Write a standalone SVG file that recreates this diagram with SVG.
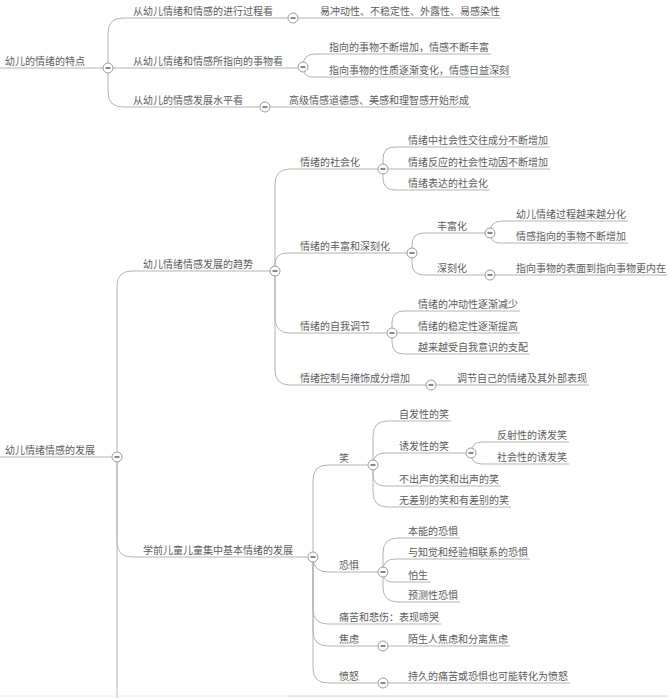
<svg xmlns="http://www.w3.org/2000/svg" width="668" height="698" viewBox="0 0 668 698">
<defs>
<style>
text{font-family:"Noto Sans CJK SC","Noto Sans CJK JP",sans-serif;font-size:10px;fill:#5c5c5c;}
.c path{fill:none;stroke:#b4b4b4;stroke-width:1;}
.t circle{fill:#fff;stroke:#9a9a9a;stroke-width:1;}
.t line{stroke:#555;stroke-width:1.4;}
</style>
<g id="tog" class="t"><circle cx="0" cy="0" r="5"/><line x1="-2.5" y1="0" x2="2.5" y2="0"/></g>
</defs>
<rect width="668" height="698" fill="#fff"/>
<g id="connectors" class="c">
<path d="M0,68 H103"/>
<path d="M108,68 V33 Q108,18 123,18 H288"/>
<path d="M113,68 H298"/>
<path d="M108,68 V92 Q108,107 123,107 H260"/>
<path d="M298,18 H501"/>
<path d="M303,67 V66 Q303,54 315,54 H491"/>
<path d="M303,67 Q303,77 313,77 H511"/>
<path d="M270,107 H471"/>
<path d="M0,457 H112"/>
<path d="M117,462 V698"/>
<path d="M117,457 V286 Q117,271 132,271 H270"/>
<path d="M117,457 V542 Q117,557 132,557 H308"/>
<path d="M275,271 V184 Q275,169 290,169 H378"/>
<path d="M275,271 V265 Q275,253 287,253 H407"/>
<path d="M275,271 V318 Q275,333 290,333 H387"/>
<path d="M275,271 V370 Q275,385 290,385 H426"/>
<path d="M383,169 V159 Q383,147 395,147 H550"/>
<path d="M388,169 H550"/>
<path d="M383,169 V178 Q383,190 395,190 H490"/>
<path d="M412,253 V245 Q412,233 424,233 H485"/>
<path d="M412,253 V263 Q412,275 424,275 H485"/>
<path d="M490,233 Q490,221 502,221 H628"/>
<path d="M490,233 Q490,243 500,243 H628"/>
<path d="M495,275 H667"/>
<path d="M392,333 V323 Q392,311 404,311 H520"/>
<path d="M397,333 H520"/>
<path d="M392,333 V342 Q392,354 404,354 H530"/>
<path d="M436,385 H589"/>
<path d="M313,557 V480 Q313,465 328,465 H368"/>
<path d="M313,557 Q313,572 328,572 H378"/>
<path d="M313,557 V609 Q313,624 328,624 H441"/>
<path d="M313,557 V631 Q313,646 328,646 H378"/>
<path d="M313,557 V668 Q313,683 328,683 H378"/>
<path d="M373,465 V436 Q373,421 388,421 H451"/>
<path d="M373,465 Q373,453 385,453 H466"/>
<path d="M373,465 V474 Q373,486 385,486 H501"/>
<path d="M373,465 V492 Q373,507 388,507 H511"/>
<path d="M471,453 Q471,442 482,442 H569"/>
<path d="M471,453 Q471,464 482,464 H569"/>
<path d="M383,572 V553 Q383,538 398,538 H460"/>
<path d="M383,572 V571 Q383,559 395,559 H530"/>
<path d="M383,572 Q383,582 393,582 H431"/>
<path d="M383,572 V587 Q383,602 398,602 H460"/>
<path d="M388,646 H510"/>
<path d="M388,683 H570"/>
</g>
<g id="frame"><path d="M0,696 H287" stroke="#ececec" stroke-width="1"/><path d="M287,696 H668" stroke="#d2d2d2" stroke-width="1"/></g>

<g id="n-root1"><text x="5" y="65">幼儿的情绪的特点</text><use href="#tog" x="108" y="68"/></g>
<g id="n-a"><text x="133" y="15">从幼儿情绪和情感的进行过程看</text><use href="#tog" x="293" y="18"/></g>
<g id="n-a1"><text x="320" y="15">易冲动性、不稳定性、外露性、易感染性</text></g>
<g id="n-b"><text x="133" y="65">从幼儿情绪和情感所指向的事物看</text><use href="#tog" x="303" y="67"/></g>
<g id="n-b1"><text x="329" y="51">指向的事物不断增加，情感不断丰富</text></g>
<g id="n-b2"><text x="329" y="74">指向事物的性质逐渐变化，情感日益深刻</text></g>
<g id="n-c"><text x="133" y="104">从幼儿的情感发展水平看</text><use href="#tog" x="265" y="107"/></g>
<g id="n-c1"><text x="289" y="104">高级情感道德感、美感和理智感开始形成</text></g>

<g id="n-root2"><text x="5" y="454">幼儿情绪情感的发展</text><use href="#tog" x="117" y="457"/></g>
<g id="n-t"><text x="143" y="268">幼儿情绪情感发展的趋势</text><use href="#tog" x="275" y="271"/></g>
<g id="n-t1"><text x="300" y="166">情绪的社会化</text><use href="#tog" x="383" y="169"/></g>
<g id="n-t11"><text x="408" y="144">情绪中社会性交往成分不断增加</text></g>
<g id="n-t12"><text x="408" y="166">情绪反应的社会性动因不断增加</text></g>
<g id="n-t13"><text x="408" y="187">情绪表达的社会化</text></g>
<g id="n-t2"><text x="300" y="250">情绪的丰富和深刻化</text><use href="#tog" x="412" y="253"/></g>
<g id="n-t21"><text x="437" y="230">丰富化</text><use href="#tog" x="490" y="233"/></g>
<g id="n-t211"><text x="516" y="218">幼儿情绪过程越来越分化</text></g>
<g id="n-t212"><text x="516" y="240">情感指向的事物不断增加</text></g>
<g id="n-t22"><text x="437" y="272">深刻化</text><use href="#tog" x="490" y="275"/></g>
<g id="n-t221"><text x="516" y="272">指向事物的表面到指向事物更内在</text></g>
<g id="n-t3"><text x="300" y="330">情绪的自我调节</text><use href="#tog" x="392" y="333"/></g>
<g id="n-t31"><text x="418" y="308">情绪的冲动性逐渐减少</text></g>
<g id="n-t32"><text x="418" y="330">情绪的稳定性逐渐提高</text></g>
<g id="n-t33"><text x="418" y="351">越来越受自我意识的支配</text></g>
<g id="n-t4"><text x="300" y="382">情绪控制与掩饰成分增加</text><use href="#tog" x="431" y="385"/></g>
<g id="n-t41"><text x="457" y="382">调节自己的情绪及其外部表现</text></g>

<g id="n-j"><text x="143" y="554">学前儿童儿童集中基本情绪的发展</text><use href="#tog" x="313" y="557"/></g>
<g id="n-x"><text x="339" y="462">笑</text><use href="#tog" x="373" y="465"/></g>
<g id="n-x1"><text x="399" y="418">自发性的笑</text></g>
<g id="n-x2"><text x="399" y="450">诱发性的笑</text><use href="#tog" x="471" y="453"/></g>
<g id="n-x21"><text x="497" y="439">反射性的诱发笑</text></g>
<g id="n-x22"><text x="497" y="461">社会性的诱发笑</text></g>
<g id="n-x3"><text x="399" y="483">不出声的笑和出声的笑</text></g>
<g id="n-x4"><text x="399" y="504">无差别的笑和有差别的笑</text></g>
<g id="n-k"><text x="339" y="569">恐惧</text><use href="#tog" x="383" y="572"/></g>
<g id="n-k1"><text x="408" y="535">本能的恐惧</text></g>
<g id="n-k2"><text x="408" y="556">与知觉和经验相联系的恐惧</text></g>
<g id="n-k3"><text x="408" y="579">怕生</text></g>
<g id="n-k4"><text x="408" y="599">预测性恐惧</text></g>
<g id="n-p"><text x="339" y="621">痛苦和悲伤：表现啼哭</text></g>
<g id="n-q"><text x="339" y="643">焦虑</text><use href="#tog" x="383" y="646"/></g>
<g id="n-q1"><text x="408" y="643">陌生人焦虑和分离焦虑</text></g>
<g id="n-f"><text x="339" y="680">愤怒</text><use href="#tog" x="383" y="683"/></g>
<g id="n-f1"><text x="408" y="680">持久的痛苦或恐惧也可能转化为愤怒</text></g>
</svg>
